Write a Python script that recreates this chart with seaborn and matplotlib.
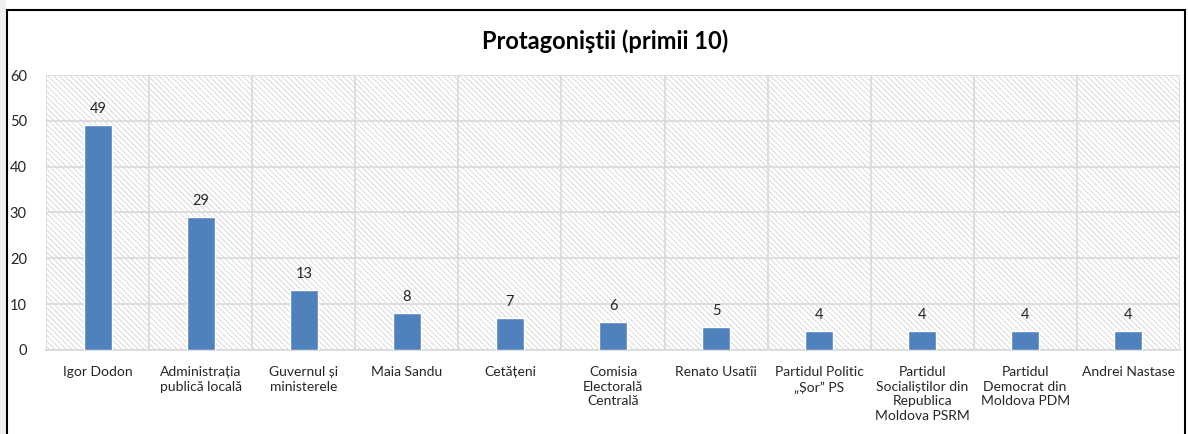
import pandas as pd
import matplotlib.pyplot as plt
import seaborn as sns
from matplotlib.patches import Rectangle

# Date
protagonisti = ['Igor Dodon', 'Administrația\npublică locală', 'Guvernul și\nministerele',
                'Maia Sandu', 'Cetățeni', 'Comisia\nElectorală\nCentrală', 'Renato Usatîi',
                'Partidul Politic\n„Șor” PS', 'Partidul\nSocialiștilor din\nRepublica\nMoldova PSRM',
                'Partidul\nDemocrat din\nMoldova PDM', 'Andrei Nastase']
valori = [49, 29, 13, 8, 7, 6, 5, 4, 4, 4, 4]

df = pd.DataFrame({'protagonist': protagonisti, 'valoare': valori})

sns.set_style('white')
plt.rcParams['font.family'] = ['Lato', 'DejaVu Sans']
plt.rcParams['hatch.linewidth'] = 0.6

fig = plt.figure(figsize=(11.88, 4.34), dpi=100)
ax = fig.add_axes([0.039, 0.194, 0.954, 0.633])

# chenar figura
fig.patches.append(Rectangle((0, 0), 0.005, 1, transform=fig.transFigure,
                             facecolor='#f0f0f0', edgecolor='none', zorder=0))
fig.patches.append(Rectangle((0.0055, -0.01), 0.992, 0.987, transform=fig.transFigure,
                             fill=False, edgecolor='black', lw=1.5, zorder=1))

# fundal hasurat
ax.add_patch(Rectangle((0, 0), 1, 1, transform=ax.transAxes, fill=False,
                       hatch='\\\\\\\\\\\\', edgecolor='#d4d4d4', lw=0, zorder=0))

sns.barplot(data=df, x='protagonist', y='valoare', color='#4f81bd', width=0.27,
            saturation=1, ax=ax, zorder=3)

for i, v in enumerate(valori):
    ax.text(i, v + 2, str(v), ha='center', va='bottom', fontsize=10.5, color='#262626', zorder=4)

ax.set_ylim(0, 60)
ax.set_xlim(-0.5, len(valori) - 0.5)
ax.set_yticks(range(0, 61, 10))
ax.yaxis.grid(True, color='#d9d9d9', lw=1.2, zorder=1)
for b in range(len(valori) + 1):
    ax.axvline(b - 0.5, color='#d9d9d9', lw=1.2, zorder=1)
for s in ['top', 'right', 'left']:
    ax.spines[s].set_visible(False)
ax.spines['bottom'].set_color('#d9d9d9')
ax.spines['bottom'].set_linewidth(1.2)

ax.set_xlabel('')
ax.set_ylabel('')
ax.tick_params(axis='x', labelsize=10, colors='#262626', length=0, pad=12)
ax.tick_params(axis='y', labelsize=10.5, colors='#262626', length=0, pad=14)
for lbl in ax.get_xticklabels():
    lbl.set_multialignment('center')
    lbl.set_linespacing(1.25)

fig.text(0.509, 0.905, 'Protagoniştii (primii 10)', ha='center', va='center',
         fontsize=17, fontweight='bold', color='black')

fig.savefig('out.png', dpi=100)
